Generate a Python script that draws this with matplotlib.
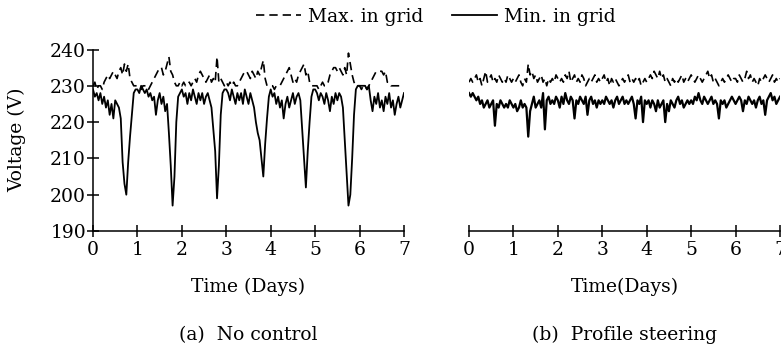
import numpy as np
import matplotlib
matplotlib.use("Agg")
import matplotlib.pyplot as plt

# ---------------- data (hourly readings, 7 days) ----------------
hours = np.arange(169)
days = hours / 24.0

nc_max = [
    230, 231, 229, 230, 230, 229, 231, 232, 233, 232, 233, 234, 233, 232, 234, 235, 233, 236, 234, 236, 232, 231, 230, 230,
    230, 230, 229, 230, 230, 230, 229, 230, 231, 232, 233, 234, 235, 235, 233, 234, 236, 238, 234, 233, 231, 230, 230, 231,
    230, 231, 230, 230, 231, 230, 231, 232, 231, 233, 234, 233, 232, 231, 232, 233, 231, 232, 231, 238, 231, 232, 231, 230,
    231, 230, 231, 230, 231, 230, 230, 231, 232, 233, 234, 234, 233, 232, 234, 233, 232, 234, 233, 235, 237, 232, 230, 230,
    230, 230, 229, 230, 230, 230, 231, 232, 233, 234, 235, 233, 231, 232, 231, 233, 234, 235, 236, 233, 234, 231, 230, 230,
    230, 230, 229, 230, 231, 230, 230, 231, 233, 234, 235, 235, 234, 235, 234, 233, 235, 233, 239, 236, 233, 231, 230, 230,
    230, 229, 230, 230, 229, 230, 231, 232, 233, 234, 234, 234, 234, 233, 234, 231, 231, 230, 230, 230, 230, 230, 230, 230, 230,
]
nc_min = [
    229, 227, 228, 226, 228, 225, 227, 224, 226, 222, 225, 221, 226, 225, 224, 221, 209, 203, 200, 209, 216, 222, 228, 229,
    229, 228, 230, 229, 228, 229, 227, 228, 226, 227, 222, 226, 228, 225, 227, 223, 225, 217, 208, 197, 205, 220, 227, 228,
    229, 227, 228, 225, 228, 226, 229, 227, 225, 228, 226, 228, 225, 227, 228, 226, 224, 218, 212, 199, 208, 222, 228, 229,
    229, 228, 226, 229, 227, 225, 228, 226, 228, 225, 229, 227, 225, 228, 226, 224, 220, 217, 215, 210, 205, 214, 221, 227,
    229, 227, 228, 225, 227, 224, 226, 221, 225, 227, 224, 226, 228, 225, 227, 228, 226, 218, 210, 202, 212, 220, 227, 229,
    229, 228, 226, 228, 227, 225, 228, 226, 223, 227, 225, 228, 226, 228, 227, 224, 215, 206, 197, 200, 210, 222, 229, 230,
    230, 230, 230, 230, 229, 230, 226, 223, 227, 225, 228, 224, 226, 223, 227, 225, 228, 224, 226, 222, 225, 227, 224, 226, 228,
]
ps_max = [
    231, 232, 231, 232, 233, 231, 232, 230, 232, 234, 231, 232, 233, 231, 232, 231, 233, 232, 231, 232, 231, 233, 232, 231,
    232, 231, 232, 233, 231, 230, 232, 231, 236, 233, 234, 232, 233, 231, 232, 233, 231, 232, 230, 232, 231, 232, 231, 233,
    232, 231, 232, 231, 233, 232, 234, 231, 232, 233, 231, 232, 231, 233, 232, 230, 231, 232, 231, 232, 233, 231, 232, 231,
    232, 233, 231, 232, 230, 232, 231, 232, 231, 230, 231, 232, 231, 232, 233, 231, 232, 231, 232, 231, 232, 230, 231, 232,
    231, 232, 233, 232, 234, 233, 232, 234, 232, 233, 231, 232, 231, 230, 232, 231, 232, 231, 232, 233, 231, 232, 231, 232,
    233, 232, 231, 232, 233, 232, 231, 232, 233, 234, 232, 233, 231, 232, 231, 230, 231, 232, 231, 232, 233, 232, 231, 232,
    232, 231, 233, 232, 231, 232, 234, 232, 233, 231, 232, 231, 230, 232, 231, 232, 233, 232, 231, 232, 233, 231, 232, 231, 232,
]
ps_min = [
    228, 227, 228, 227, 226, 227, 225, 226, 224, 225, 226, 224, 225, 226, 219, 225, 224, 226, 225, 224, 225, 224, 226, 225,
    224, 225, 223, 224, 226, 224, 225, 224, 216, 223, 225, 227, 224, 225, 226, 224, 228, 218, 226, 227, 225, 226, 225, 227,
    226, 224, 227, 225, 228, 226, 225, 227, 226, 221, 226, 225, 227, 226, 225, 227, 222, 226, 227, 225, 226, 224, 226, 225,
    226, 225, 227, 226, 225, 226, 224, 226, 227, 225, 226, 227, 225, 226, 225, 226, 227, 225, 221, 226, 225, 227, 220, 226,
    225, 226, 224, 226, 225, 223, 226, 224, 225, 226, 220, 225, 223, 226, 225, 224, 226, 227, 225, 226, 224, 225, 226, 225,
    226, 225, 227, 226, 228, 226, 225, 227, 226, 225, 226, 227, 225, 226, 225, 221, 226, 225, 226, 224, 225, 226, 227, 226,
    225, 226, 227, 226, 223, 226, 225, 227, 226, 225, 226, 224, 226, 227, 225, 226, 222, 226, 227, 228, 226, 227, 225, 226, 227,
]

x_ticks = [0, 1, 2, 3, 4, 5, 6, 7]
y_ticks = [190, 200, 210, 220, 230, 240]

# ---------------- style ----------------
plt.rcParams['font.family'] = ['DejaVu Serif']
FS = 13.5
W, H = 781, 348
fig = plt.figure(figsize=(W / 100, H / 100), dpi=100)

def fx(px):
    return px / W

def fy(py):
    return 1 - py / H

ax_l = fig.add_axes([fx(93), fy(231), fx(404) - fx(93), fy(49.5) - fy(231)])
ax_r = fig.add_axes([fx(469), fy(231), fx(780) - fx(469), fy(49.5) - fy(231)])

dash = (0, (5, 3))
for ax, mx, mn, lwmin in [(ax_l, nc_max, nc_min, 1.3), (ax_r, ps_max, ps_min, 1.6)]:
    ax.plot(days, mx, color='black', lw=1.2, linestyle=dash)
    ax.plot(days, mn, color='black', lw=lwmin, linestyle='-')
    ax.set_xlim(0, 7)
    ax.set_ylim(190, 240)
    ax.set_xticks(x_ticks)
    ax.set_xticklabels([str(t) for t in x_ticks])
    for s in ['top', 'right']:
        ax.spines[s].set_visible(False)
    ax.spines['bottom'].set_linewidth(1.1)
    ax.spines['left'].set_linewidth(1.1)
    ax.tick_params(axis='both', direction='inout', length=8, width=1.1,
                   labelsize=FS, pad=3, colors='black')
    ax.patch.set_alpha(0)

ax_l.set_yticks(y_ticks)
ax_l.set_yticklabels([str(t) for t in y_ticks])
ax_l.tick_params(axis='y', pad=1)

ax_r.spines['left'].set_visible(False)
ax_r.set_yticks([])

ax_l.set_ylabel('Voltage (V)', fontsize=FS)
ax_l.yaxis.label.set_va('center')
ax_l.yaxis.set_label_coords((17 - 93) / 311, 0.5)

ax_l.set_xlabel('Time (Days)', fontsize=FS)
ax_r.set_xlabel('Time(Days)', fontsize=FS)
for ax in (ax_l, ax_r):
    ax.xaxis.label.set_va('center')
    ax.xaxis.set_label_coords(0.5, -(287 - 231) / 181.5)

fig.text(fx(248), fy(335), '(a)  No control', ha='center', va='center', fontsize=FS)
fig.text(fx(625), fy(335), '(b)  Profile steering', ha='center', va='center', fontsize=FS)

h_max, = ax_l.plot([], [], color='black', lw=1.2, linestyle=dash)
h_min, = ax_l.plot([], [], color='black', lw=1.3)
fig.legend([h_max, h_min], ['Max. in grid', 'Min. in grid'],
           loc='center', bbox_to_anchor=(fx(436), fy(17)), ncol=2, frameon=False,
           fontsize=FS, handlelength=2.4, handletextpad=0.4, columnspacing=1.5)

fig.savefig('out.png', dpi=100)
